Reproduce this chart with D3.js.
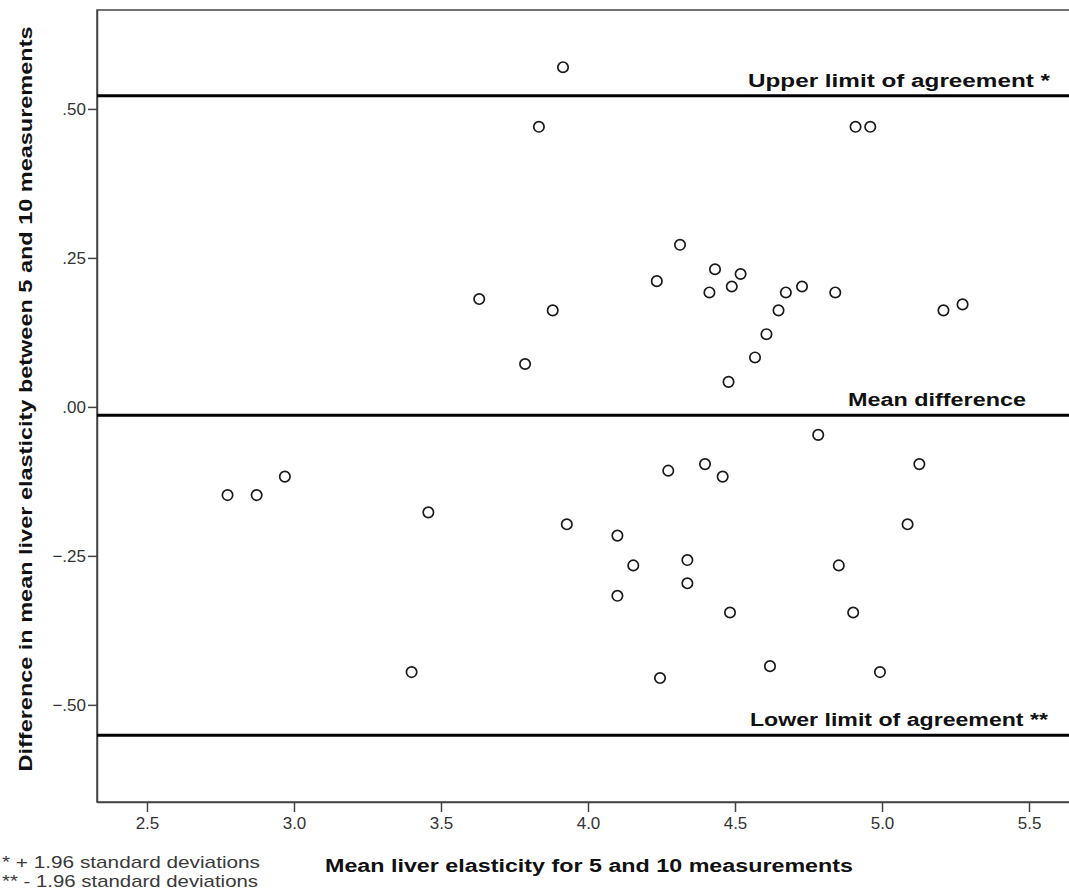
<!DOCTYPE html>
<html>
<head>
<meta charset="utf-8">
<script src="https://cdn.jsdelivr.net/npm/d3@7"></script>
<style>
  body { margin: 0; background: #fff; }
  svg { display: block; }
  text { font-family: "Liberation Sans", Arial, sans-serif; }
</style>
</head>
<body>
<div id="chart"></div>
<script>
//
// Data
//
var meanVals = [3.915, 3.833, 4.91, 4.96,
    4.313, 4.234, 4.432, 4.519, 4.413, 4.489, 4.673, 4.728, 4.841, 4.648, 4.607, 4.568, 4.478, 5.209, 5.274,
    3.630, 3.880, 3.786,
    2.774, 2.873, 2.969, 3.457, 3.928,
    4.783, 4.273, 4.398, 4.458, 5.127,
    4.100, 4.154, 4.338, 4.338, 4.100, 4.483, 5.087, 4.853, 4.902,
    3.40, 4.245, 4.619, 4.993];
var diffVals = [0.570, 0.470, 0.470, 0.470,
    0.272, 0.211, 0.231, 0.223, 0.192, 0.202, 0.192, 0.202, 0.192, 0.162, 0.122, 0.083, 0.042, 0.162, 0.172,
    0.181, 0.162, 0.072,
    -0.148, -0.148, -0.117, -0.177, -0.197,
    -0.047, -0.107, -0.096, -0.117, -0.096,
    -0.216, -0.266, -0.257, -0.296, -0.317, -0.345, -0.197, -0.266, -0.345,
    -0.445, -0.455, -0.435, -0.445];

var refNames  = ["Upper limit of agreement *", "Mean difference", "Lower limit of agreement **"];
var refValues = [0.522, -0.014, -0.551];

var xTicks = [2.5, 3.0, 3.5, 4.0, 4.5, 5.0, 5.5];
var yTicks = [0.5, 0.25, 0, -0.25, -0.5];

var footNotes = ["* + 1.96 standard deviations", "** - 1.96 standard deviations"];

//
// Global Vars
//
var width = 1069, height = 892;
var plot = { left: 97, right: 1069, top: 10, bottom: 802 };

var svg = d3.select("#chart").append("svg")
    .attr("width", width)
    .attr("height", height);

var x = d3.scaleLinear().domain([2.33, 5.636]).range([plot.left, plot.right]);
var y = d3.scaleLinear().domain([-0.663, 0.666]).range([plot.bottom, plot.top]);

// the source text is drawn wide, so stretch ours to match
function fitWidth(sel, w) {
    sel.attr("textLength", w).attr("lengthAdjust", "spacingAndGlyphs");
}

// frame
svg.append("rect")
    .attr("x", plot.left)
    .attr("y", plot.top)
    .attr("width", plot.right - plot.left + 2)
    .attr("height", plot.bottom - plot.top)
    .attr("fill", "none")
    .attr("stroke", "#444")
    .attr("stroke-width", 1.5);

// axes
var xAxis = svg.append("g")
    .attr("transform", "translate(0," + plot.bottom + ")")
    .call(d3.axisBottom(x).tickValues(xTicks).tickFormat(d3.format(".1f")).tickSize(10).tickSizeOuter(0));

var yAxis = svg.append("g")
    .attr("transform", "translate(" + plot.left + ",0)")
    .call(d3.axisLeft(y).tickValues(yTicks)
        .tickFormat(function(d) { return d3.format(".2f")(d).replace("0.", "."); })
        .tickSize(9).tickSizeOuter(0));

[xAxis, yAxis].forEach(function(a) {
    a.select(".domain").attr("stroke", "#444").attr("stroke-width", 1.5);
    a.selectAll(".tick line").attr("stroke", "#444").attr("stroke-width", 1.5);
    a.selectAll(".tick text")
        .attr("fill", "#333")
        .style("font-size", "17px")
        .style("font-family", "'Liberation Sans', Arial, sans-serif");
});
xAxis.selectAll(".tick text").attr("dy", "0.71em").attr("y", 15);
yAxis.selectAll(".tick text").attr("x", -11);

// reference lines
svg.append("g").selectAll("line")
    .data(refValues)
    .enter().append("line")
    .attr("x1", plot.left)
    .attr("x2", plot.right)
    .attr("y1", function(d) { return y(d); })
    .attr("y2", function(d) { return y(d); })
    .attr("stroke", "#000")
    .attr("stroke-width", 3);

var refLabelRight = [1050, 1026, 1048];
var refLabelWidth = [302, 178, 298];
svg.append("g").selectAll("text")
    .data(refNames)
    .enter().append("text")
    .attr("x", function(d, i) { return refLabelRight[i]; })
    .attr("y", function(d, i) { return y(refValues[i]) - 9; })
    .attr("text-anchor", "end")
    .style("font-size", "18px")
    .style("font-weight", "bold")
    .attr("fill", "#111")
    .text(function(d) { return d; })
    .each(function(d, i) { fitWidth(d3.select(this), refLabelWidth[i]); });

// points
svg.append("g").selectAll("circle")
    .data(meanVals)
    .enter().append("circle")
    .attr("cx", function(d) { return x(d); })
    .attr("cy", function(d, i) { return y(diffVals[i]); })
    .attr("r", 5.2)
    .attr("fill", "none")
    .attr("stroke", "#1a1a1a")
    .attr("stroke-width", 1.7);

// axis titles
svg.append("text")
    .attr("x", 589)
    .attr("y", 872)
    .attr("text-anchor", "middle")
    .style("font-size", "18px")
    .style("font-weight", "bold")
    .attr("fill", "#111")
    .text("Mean liver elasticity for 5 and 10 measurements")
    .call(fitWidth, 528);

svg.append("text")
    .attr("transform", "translate(32,399) rotate(-90)")
    .attr("text-anchor", "middle")
    .style("font-size", "18px")
    .style("font-weight", "bold")
    .attr("fill", "#111")
    .text("Difference in mean liver elasticity between 5 and 10 measurements")
    .call(fitWidth, 745);

// foot notes, squeezed into the bottom-left corner
var footRight = [260, 258];
svg.append("g").selectAll("text")
    .data(footNotes)
    .enter().append("text")
    .attr("x", 2)
    .attr("y", function(d, i) { return 868 + i * 19; })
    .style("font-size", "17px")
    .attr("fill", "#3a3a3a")
    .text(function(d) { return d; })
    .each(function(d, i) { fitWidth(d3.select(this), footRight[i] - 2); });
</script>
</body>
</html>
